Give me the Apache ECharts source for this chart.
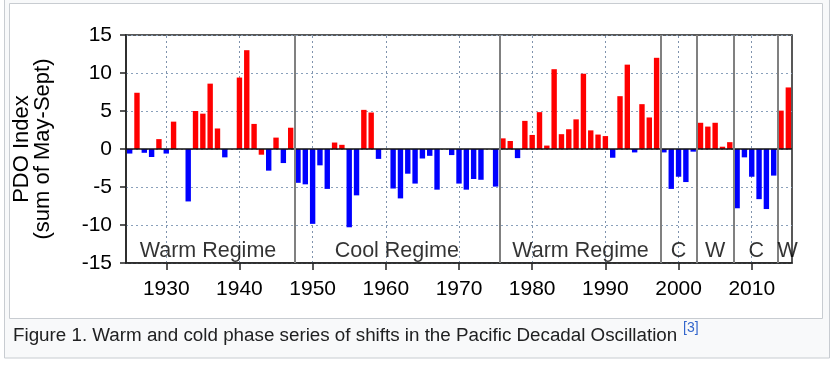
<!DOCTYPE html>
<html>
<head>
<meta charset="utf-8">
<script src="https://cdn.jsdelivr.net/npm/echarts@6/dist/echarts.min.js"></script>
<style>
  html, body { margin: 0; padding: 0; background: #ffffff; }
  #chart { width: 840px; height: 365px; }
</style>
</head>
<body>
<div id="chart"></div>
<script>
// ---- Data ----
const years = [1925,1926,1927,1928,1929,1930,1931,1932,1933,1934,1935,1936,1937,1938,1939,1940,1941,1942,1943,1944,1945,1946,1947,1948,1949,1950,1951,1952,1953,1954,1955,1956,1957,1958,1959,1960,1961,1962,1963,1964,1965,1966,1967,1968,1969,1970,1971,1972,1973,1974,1975,1976,1977,1978,1979,1980,1981,1982,1983,1984,1985,1986,1987,1988,1989,1990,1991,1992,1993,1994,1995,1996,1997,1998,1999,2000,2001,2002,2003,2004,2005,2006,2007,2008,2009,2010,2011,2012,2013,2014,2015];
const pdoValues = [-0.6,7.4,-0.5,-1.05,1.3,-0.6,3.6,0,-6.9,5.0,4.65,8.6,2.7,-1.1,0,9.4,13.0,3.3,-0.75,-2.85,1.5,-1.85,2.8,-4.45,-4.65,-9.85,-2.15,-5.25,0.85,0.55,-10.3,-6.1,5.15,4.8,-1.3,0,-5.2,-6.5,-3.25,-4.55,-1.25,-0.9,-5.35,0,-0.8,-4.55,-5.35,-3.95,-4.05,0,-4.95,1.4,1.05,-1.2,3.7,1.85,4.85,0.45,10.5,1.95,2.6,3.9,9.9,2.45,1.9,1.7,-1.15,6.95,11.1,-0.45,5.9,4.15,12.0,-0.45,-5.25,-3.65,-4.35,-0.35,3.45,2.95,3.45,0.3,0.9,-7.8,-1.1,-3.65,-6.6,-7.9,-3.5,5.05,8.1];
// years whose (small negative) bar is drawn in the warm colour in the original
const warmColouredNegatives = [1943];

const regimeNames = ['Warm Regime','Cool Regime','Warm Regime','C','W','C','W'];
const regimeLabelCenters = [1935.7,1961.5,1986.6,2000,2005,2010.6,2014.9];
const regimeBoundaries = [1947.5,1975.5,1997.5,2002.5,2007.5,2013.5];

const xTickValues = [1930,1940,1950,1960,1970,1980,1990,2000,2010];
const yMin = -15, yMax = 15, yStep = 5;
const xMin = 1924.5, xMax = 2015.5;

const captionText = 'Figure 1. Warm and cold phase series of shifts in the Pacific Decadal Oscillation';
const captionRef = '[3]';

// ---- Build ----
const WARM = '#ff0000', COOL = '#0000ff';
const FONT = '"Liberation Sans", Arial, sans-serif';

const barData = years.map((y, i) => {
  const v = pdoValues[i];
  const warm = v >= 0 || warmColouredNegatives.includes(y);
  return { value: [y, v], itemStyle: { color: warm ? WARM : COOL } };
});

const chart = echarts.init(document.getElementById('chart'), null, { renderer: 'canvas' });

const option = {
  animation: false,
  backgroundColor: '#ffffff',
  graphic: [
    { type: 'rect', z: -10, shape: { x: 4.5, y: -2, width: 825, height: 360 },
      style: { fill: '#f8f9fa', stroke: '#c8ccd1', lineWidth: 1 } },
    { type: 'rect', z: -9, shape: { x: 9.5, y: 3.5, width: 813, height: 315 },
      style: { fill: '#ffffff', stroke: '#c8ccd1', lineWidth: 1 } },
    { type: 'text', z: 10, left: 13, top: 326,
      style: { text: captionText, fill: '#202122', font: '18.8px ' + FONT } },
    { type: 'text', z: 10, left: 683, top: 321,
      style: { text: captionRef, fill: '#3366cc', font: '14px ' + FONT } }
  ],
  grid: {
    left: 126, right: 48, top: 35, bottom: 102,
    show: true, borderColor: '#222', borderWidth: 1.5, backgroundColor: 'transparent'
  },
  xAxis: {
    type: 'value', min: xMin, max: xMax,
    axisLine: { show: true, onZero: false, lineStyle: { color: '#222', width: 1.5 } },
    axisTick: { show: true, customValues: xTickValues, length: 7, inside: false,
      lineStyle: { color: '#222', width: 1.5 } },
    axisLabel: { customValues: xTickValues, margin: 16, color: '#000',
      fontSize: 21, fontFamily: FONT, formatter: v => String(v) },
    splitLine: { show: false }
  },
  yAxis: {
    type: 'value', min: yMin, max: yMax, interval: yStep,
    name: 'PDO Index\n(sum of May-Sept)',
    nameLocation: 'middle', nameRotate: 90, nameGap: 73,
    nameTextStyle: { fontSize: 22, fontFamily: FONT, color: '#000', lineHeight: 21 },
    axisLine: { show: true, lineStyle: { color: '#222', width: 1.5 } },
    axisTick: { show: true, length: 6, inside: false, lineStyle: { color: '#222', width: 1.5 } },
    axisLabel: { margin: 14, color: '#000', fontSize: 21, fontFamily: FONT },
    splitLine: { show: true, lineStyle: { color: '#8aa0bb', width: 1, type: [2, 3] } }
  },
  series: [
    { // decade grid lines (behind the bars)
      type: 'line', data: [], z: 0, silent: true,
      markLine: {
        silent: true, symbol: 'none', label: { show: false }, z: 0,
        lineStyle: { color: '#7f93ad', width: 1, type: [2, 3] },
        data: xTickValues.map(v => ({ xAxis: v }))
      }
    },
    {
      type: 'bar', data: barData, barWidth: 5.4, z: 2,
      markLine: {
        silent: true, symbol: 'none', label: { show: false }, z: 3,
        data: [{ yAxis: 0, lineStyle: { color: '#111', width: 1.5, type: 'solid' } }]
          .concat(regimeBoundaries.map(v => ({ xAxis: v, lineStyle: { color: '#808080', width: 2, type: 'solid' } })))
      }
    },
    { // regime labels
      type: 'scatter', symbolSize: 0, z: 5, silent: true,
      data: regimeNames.map((n, i) => ({ value: [regimeLabelCenters[i], -13.4], name: n })),
      label: { show: true, position: 'inside', formatter: p => p.name,
        fontSize: 21.5, fontFamily: FONT, color: '#000' }
    }
  ]
};
chart.setOption(option);
</script>
</body>
</html>
